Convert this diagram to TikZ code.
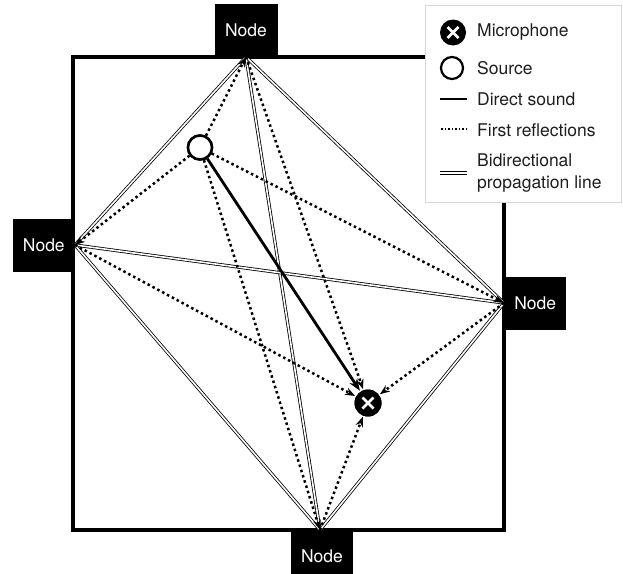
\documentclass[tikz,border=0pt]{standalone}
\usepackage{fontspec}
\setmainfont{TeX Gyre Heros}
\usetikzlibrary{arrows.meta}
\definecolor{legendline}{RGB}{215,215,215}
\definecolor{inktext}{RGB}{30,30,30}
\begin{document}
\begin{tikzpicture}[x=1pt,y=-1pt,
  every node/.style={font=\fontsize{17.5}{22}\selectfont},
  nodebox/.style={fill=black,text=white,minimum width=63pt,minimum height=53pt,inner sep=0pt},
  wall/.style={line width=3.4pt},
  bidir/.style={draw=black,double=white,line width=0.8pt,double distance=1.6pt},
  refl/.style={line width=2.5pt,dash pattern=on 2.5pt off 3pt,-{Stealth[length=10pt,width=7.5pt]}},
  direct/.style={line width=2.8pt,-{Stealth[length=12pt,width=9pt]}},
  srcstyle/.style={circle,draw=black,fill=white,line width=2.5pt,minimum size=#1,inner sep=0pt},
  micstyle/.style={circle,fill=black,minimum size=#1,inner sep=0pt,
    path picture={
      \draw[white,line width=2.6pt]
        ([shift={(-5.5pt,-5.5pt)}]path picture bounding box.center) -- ([shift={(5.5pt,5.5pt)}]path picture bounding box.center)
        ([shift={(-5.5pt,5.5pt)}]path picture bounding box.center) -- ([shift={(5.5pt,-5.5pt)}]path picture bounding box.center);}},
  legtext/.style={anchor=west,text=inktext,inner sep=0pt,align=left}
]
\useasboundingbox (0,0) rectangle (623,573);

% room walls
\draw[wall] (73,57) rectangle (504,530);

% ports where the walls meet the nodes
\coordinate (pT) at (246,57);
\coordinate (pL) at (75,245);
\coordinate (pR) at (504,303);
\coordinate (pB) at (320,530);

% source and microphone
\node[srcstyle=24pt] (src) at (200,147.5) {};
\node[micstyle=27pt] (mic) at (368,403) {};

% bidirectional propagation lines between the nodes
\draw[bidir] (pT) -- (pL);
\draw[bidir] (pT) -- (pR);
\draw[bidir] (pT) -- (pB);
\draw[bidir] (pL) -- (pR);
\draw[bidir] (pL) -- (pB);
\draw[bidir] (pR) -- (pB);

% first reflections: source to nodes, nodes to microphone
\draw[refl] (src) -- (pT);
\draw[refl] (src) -- (pL);
\draw[refl] (src) -- (pR);
\draw[refl] (src) -- (pB);
\draw[refl,shorten >=1pt] (pT) -- (mic);
\draw[refl,shorten >=1pt] (pL) -- (mic);
\draw[refl,shorten >=1pt] (pR) -- (mic);
\draw[refl,shorten >=1pt] (pB) -- (mic);

% direct sound
\draw[direct,shorten >=1pt] (src) -- (mic);

% redraw source and microphone on top
\node[srcstyle=24pt] at (src) {};
\node[micstyle=27pt] at (mic) {};

% nodes
\node[nodebox,anchor=south] (nT) at (pT) {Node};
\node[nodebox,anchor=east,minimum width=62pt] (nL) at (pL) {Node};
\node[nodebox,anchor=west,minimum width=62pt] (nR) at (pR) {Node};
\node[nodebox,anchor=north,minimum width=62pt] (nB) at ([xshift=2pt]pB) {Node};

% legend
\node[draw=legendline,fill=white,line width=0.8pt,minimum width=196pt,minimum height=197pt,inner sep=0pt,anchor=north west] (legend) at (425,5) {};
\node[micstyle=26pt] (lgMic) at (453,32.5) {};
\node[legtext] (tMic) at (477,32.5) {Microphone};
\node[srcstyle=22pt,line width=2.2pt] (lgSrc) at (452,68) {};
\node[legtext] (tSrc) at (477,68) {Source};
\coordinate (lgD1) at (440,99);
\coordinate (lgD2) at (467,99);
\draw[line width=1.4pt] (lgD1) -- (lgD2);
\node[legtext] (tDir) at (477,99) {Direct sound};
\coordinate (lgF1) at (441,129);
\coordinate (lgF2) at (467,129);
\draw[line width=1.6pt,dash pattern=on 1.6pt off 1.9pt] (lgF1) -- (lgF2);
\node[legtext] (tRef) at (477,130) {First reflections};
\coordinate (lgB1) at (440,173);
\coordinate (lgB2) at (467,173);
\draw[bidir,line width=0.7pt,double distance=1.8pt] (lgB1) -- (lgB2);
\node[legtext] (tBid) at (477,173) {Bidirectional\\propagation line};
\end{tikzpicture}
\end{document}
